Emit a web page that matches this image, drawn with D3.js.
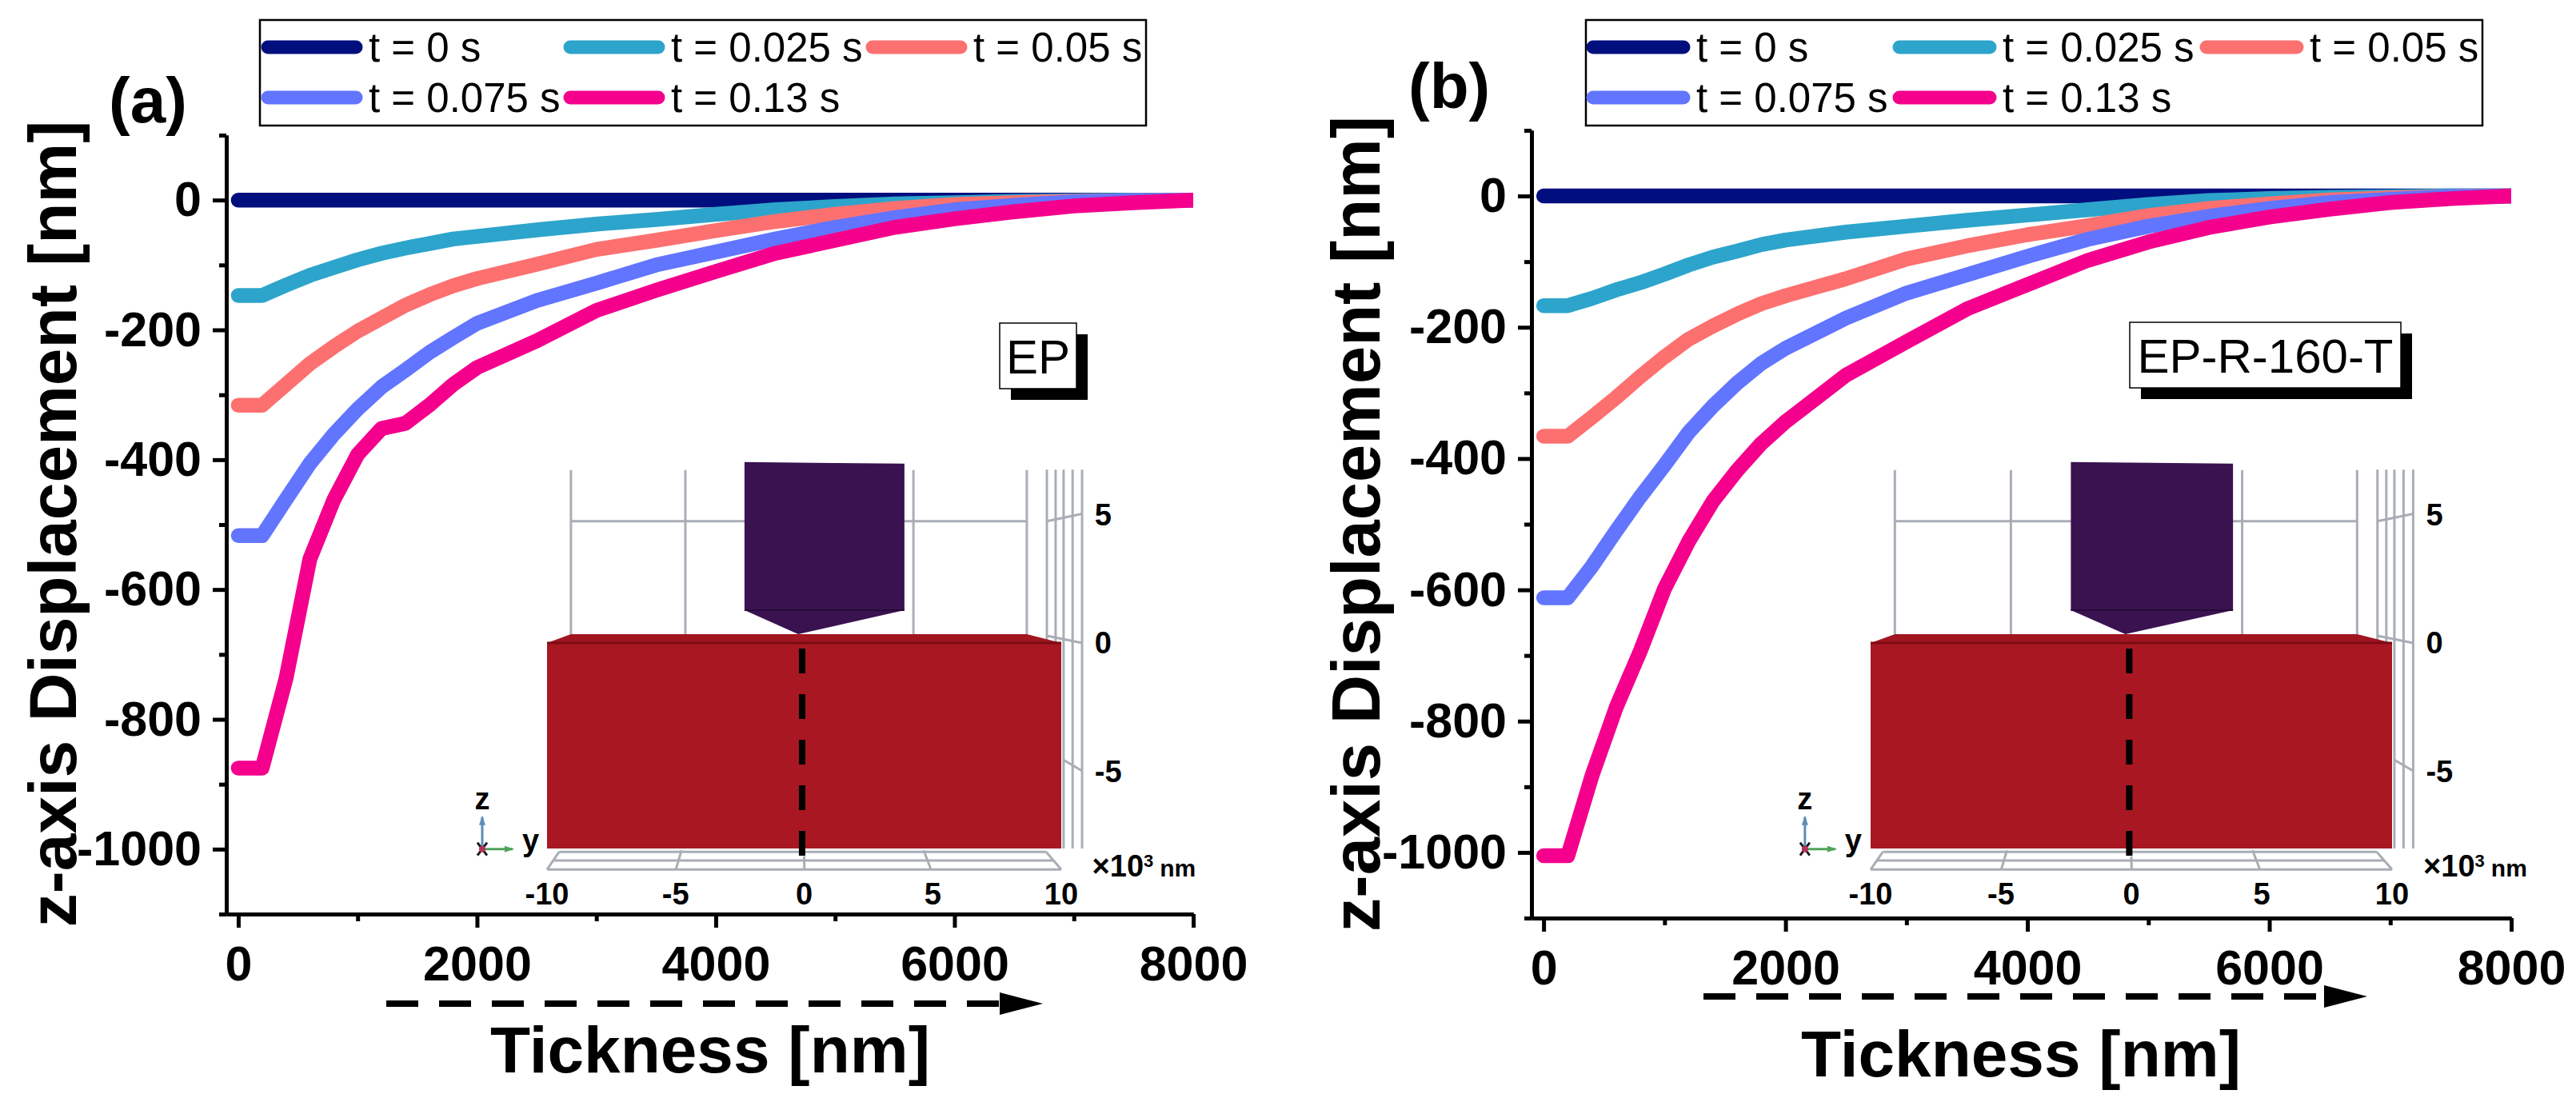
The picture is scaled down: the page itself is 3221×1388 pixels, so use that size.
<!DOCTYPE html>
<html>
<head>
<meta charset="utf-8">
<title>z-axis displacement</title>
<script src="https://d3js.org/d3.v7.min.js"></script>
<style>
    body { margin: 0; background: white; }
    svg { display: block; font-family: "Liberation Sans", Arial, sans-serif; }
    .axis path, .axis line { stroke: black; stroke-width: 5; }
    .axis text { font-size: 61px; font-weight: bold; fill: black; }
    .curve { fill: none; stroke-width: 18.5; stroke-linejoin: round; stroke-linecap: round; }
    .legend-swatch { stroke-width: 17; stroke-linecap: round; }
    .legend-label { font-size: 51px; }
    .axis-title { font-weight: bold; }
    .inset-grid { stroke: #a9adb6; stroke-width: 3; fill: none; }
    .inset-label { font-size: 38px; font-weight: bold; }
</style>
</head>
<body>
<svg id="chart" width="3221" height="1388"></svg>
<script>
// x positions (nm) shared by all curves
const thickness = [0, 200, 400, 600, 800, 1000, 1200, 1400, 1600, 1800, 2000, 2500, 3000, 3500, 4000, 4500, 5000, 5500, 6000, 6500, 7000, 7500, 8000];

const seriesNames = ['t = 0 s', 't = 0.025 s', 't = 0.05 s', 't = 0.075 s', 't = 0.13 s'];
const seriesColors = ['#000e7e', '#2da4cb', '#fd7070', '#6275ff', '#f4008c'];

const epT0 = [0, 0, 0, 0, 0, 0, 0, 0, 0, 0, 0, 0, 0, 0, 0, 0, 0, 0, 0, 0, 0, 0, 0];
const epT025 = [-147, -147, -131, -116, -104, -92, -82, -74, -67, -60, -56, -46, -37, -30, -22, -15, -10, -6, -4, -2, -1, 0, 0];
const epT05 = [-316, -316, -284, -252, -226, -202, -182, -162, -146, -132, -121, -99, -76, -62, -47, -33, -22, -13, -7, -4, -2, -1, 0];
const epT075 = [-517, -517, -461, -406, -361, -322, -288, -262, -235, -212, -190, -155, -128, -100, -80, -60, -42, -27, -15, -8, -3, -1, 0];
const epT13 = [-875, -875, -737, -553, -462, -392, -352, -344, -316, -284, -258, -217, -170, -139, -110, -82, -62, -42, -29, -18, -9, -4, 0];

const rT0 = [0, 0, 0, 0, 0, 0, 0, 0, 0, 0, 0, 0, 0, 0, 0, 0, 0, 0, 0, 0, 0, 0, 0];
const rT025 = [-167, -167, -156, -143, -132, -119, -105, -93, -84, -74, -67, -55, -46, -37, -29, -21, -13, -7, -4, -2, -1, 0, 0];
const rT05 = [-366, -366, -337, -307, -275, -245, -218, -198, -180, -164, -152, -126, -96, -76, -59, -45, -30, -19, -12, -6, -3, -1, 0];
const rT075 = [-612, -612, -564, -510, -458, -410, -360, -320, -285, -255, -232, -186, -148, -120, -92, -66, -46, -31, -19, -10, -5, -1, 0];
const rT13 = [-1005, -1005, -883, -779, -693, -598, -526, -465, -418, -377, -344, -273, -222, -172, -135, -98, -70, -48, -32, -20, -10, -4, 0];

const xMajor = [0, 2000, 4000, 6000, 8000];
const xMinor = [1000, 3000, 5000, 7000];
const yMajor = [0, -200, -400, -600, -800, -1000];
const yMinor = [100, -100, -300, -500, -700, -900, -1100];

// inset sketch, in its own axes (x10^3 nm)
const indenterOutline = [[-2.32, 7.04], [3.9, 6.98], [3.9, 1.28], [-0.23, 0.34], [-2.32, 1.28]];
const indenterShoulder = [[-2.32, 1.28], [3.9, 1.28]];
const blockTop = [[-10, 0], [-9.07, 0.34], [8.66, 0.34], [10, 0]];
const backVerticals = [-9.07, -4.62, 4.25, 8.66];
const sideVerticals = [9.44, 9.78, 10.09, 10.44, 10.81];
const sideTicks = [[[9.44, 4.74], [10.81, 5.03]], [[9.44, 0.28], [10.81, 0]], [[10.09, -4.55], [10.81, -4.98]]];
const floorLines = [
    [[-9.53, -8.13], [9.41, -8.13]], [[-9.75, -8.47], [9.7, -8.47]], [[-10, -8.82], [10, -8.82]],
    [[-9.53, -8.13], [-10, -8.82]], [[9.41, -8.13], [10, -8.82]],
    [[-4.77, -8.07], [-4.99, -8.82]], [[0, -8.3], [0.01, -8.82]], [[4.65, -8.07], [4.93, -8.82]]
];
const insetYTicks = [-10, -5, 0, 5, 10];
const insetZTicks = [5, 0, -5];

const svg = d3.select('#chart');

function drawInset(g, left, right) {
    const sx = d3.scaleLinear().domain([-10, 10]).range([left, right]);
    const sz = d3.scaleLinear().domain([0, -8]).range([804, 1061]);
    const path = d3.line().x(d => sx(d[0])).y(d => sz(d[1]));

    backVerticals.forEach(u => g.append('path').attr('class', 'inset-grid').attr('d', path([[u, 0.34], [u, 6.73]])));
    g.append('path').attr('class', 'inset-grid').attr('d', path([[-9.07, 4.74], [8.66, 4.74]]));
    sideVerticals.forEach(u => g.append('path').attr('class', 'inset-grid').attr('d', path([[u, 6.75], [u, -8]])));
    sideTicks.forEach(t => g.append('path').attr('class', 'inset-grid').attr('d', path(t)));
    floorLines.forEach(t => g.append('path').attr('class', 'inset-grid').attr('d', path(t)));

    g.append('path').attr('d', path(indenterOutline) + 'Z').attr('fill', '#3a1250');
    g.append('path').attr('d', path(indenterShoulder)).attr('stroke', '#25093a').attr('stroke-width', 2);

    g.append('rect')
        .attr('x', sx(-10)).attr('y', sz(0))
        .attr('width', sx(10) - sx(-10)).attr('height', sz(-8) - sz(0))
        .attr('fill', '#a91723');
    g.append('path').attr('d', path(blockTop) + 'Z').attr('fill', '#a01520');
    g.append('path').attr('d', path([[-10, 0], [10, 0]])).attr('stroke', '#7d0c14').attr('stroke-width', 3);

    g.append('path')
        .attr('d', path([[-0.08, -0.22], [-0.08, -8.38]]))
        .attr('stroke', 'black').attr('stroke-width', 8).attr('stroke-dasharray', '31 26');

    g.selectAll('.ylab').data(insetYTicks).enter().append('text')
        .attr('class', 'inset-label')
        .attr('x', d => sx(d)).attr('y', 1131)
        .attr('text-anchor', 'middle')
        .text(d => d);
    g.selectAll('.zlab').data(insetZTicks).enter().append('text')
        .attr('class', 'inset-label')
        .attr('x', sx(11.3)).attr('y', d => sz(d)).attr('dy', '.35em')
        .text(d => d);

    const unit = g.append('text').attr('class', 'inset-label')
        .attr('x', sx(11.2)).attr('y', 1096);
    unit.append('tspan').text('×10');
    unit.append('tspan').attr('dy', -12).style('font-size', '22px').text('3');
    unit.append('tspan').attr('dy', 12).attr('dx', 8).style('font-size', '30px').text('nm');

    // orientation triad
    const ox = sx(-12.52), oy = sz(-8.02);
    g.append('path').attr('d', `M${ox},${oy}V${oy - 40}`).attr('stroke', '#5b8db8').attr('stroke-width', 3);
    g.append('path').attr('d', `M${ox - 4},${oy - 30}L${ox},${oy - 42}L${ox + 4},${oy - 30}Z`).attr('fill', '#5b8db8');
    g.append('path').attr('d', `M${ox},${oy}H${ox + 38}`).attr('stroke', '#4fa35a').attr('stroke-width', 3);
    g.append('path').attr('d', `M${ox + 28},${oy - 4}L${ox + 40},${oy}L${ox + 28},${oy + 4}Z`).attr('fill', '#4fa35a');
    g.append('path').attr('d', `M${ox - 6},${oy - 8}L${ox + 6},${oy + 8}M${ox + 6},${oy - 8}L${ox - 6},${oy + 8}`)
        .attr('stroke', '#1c1c1c').attr('stroke-width', 3);
    g.append('circle').attr('cx', ox).attr('cy', oy).attr('r', 4).attr('fill', '#b5305a');
    g.append('text').attr('class', 'inset-label').attr('x', ox).attr('y', oy - 50).attr('text-anchor', 'middle').text('z');
    g.append('text').attr('class', 'inset-label').attr('x', ox + 50).attr('y', oy + 2).text('y');
}

function drawPanel(p) {
    const g = svg.append('g');
    const x = d3.scaleLinear().domain([-100, 8000]).range(p.xRange);
    const y = d3.scaleLinear().domain([100, -1100]).range(p.yRange);
    const line = d3.line().x((d, i) => x(thickness[i])).y(d => y(d));

    const clipId = 'clip-' + p.sample;
    g.append('clipPath').attr('id', clipId).append('rect')
        .attr('x', x(-100)).attr('y', y(100)).attr('width', x(8000) - x(-100)).attr('height', y(-1100) - y(100));

    drawInset(g.append('g'), p.insetLeft, p.insetRight);

    g.append('g').attr('clip-path', `url(#${clipId})`)
        .selectAll('path').data(p.series).enter().append('path')
        .attr('class', 'curve')
        .attr('stroke', (d, i) => seriesColors[i])
        .attr('d', line);

    // axes, minor ticks first
    g.append('g').attr('class', 'axis').attr('transform', `translate(0,${y(-1100)})`)
        .call(d3.axisBottom(x).tickValues(xMinor).tickSize(9).tickSizeOuter(0).tickFormat(''));
    g.append('g').attr('class', 'axis').attr('transform', `translate(${x(-100)},0)`)
        .call(d3.axisLeft(y).tickValues(yMinor).tickSize(9).tickSizeOuter(0).tickFormat(''));
    const xAxis = g.append('g').attr('class', 'axis').attr('transform', `translate(0,${y(-1100)})`)
        .call(d3.axisBottom(x).tickValues(xMajor).tickSize(17).tickSizeOuter(0).tickFormat(d => d));
    xAxis.selectAll('text').attr('y', 83).attr('dy', 0);
    g.append('g').attr('class', 'axis').attr('transform', `translate(${x(-100)},0)`)
        .call(d3.axisLeft(y).tickValues(yMajor).tickSize(17).tickSizeOuter(0).tickPadding(14).tickFormat(d => String(d)));

    // titles
    g.append('text').attr('class', 'axis-title')
        .attr('transform', `translate(${p.yTitleX},655) rotate(-90)`)
        .attr('text-anchor', 'middle').style('font-size', p.yTitleSize + 'px')
        .text('z-axis Displacement [nm]');
    g.append('text').attr('class', 'axis-title')
        .attr('x', p.xTitleX).attr('y', p.xTitleY)
        .attr('text-anchor', 'middle').style('font-size', '82px')
        .text('Tickness [nm]');
    g.append('text').attr('class', 'axis-title')
        .attr('x', p.tagX).attr('y', p.tagY).style('font-size', '80px')
        .text(p.tag);

    // direction arrow
    g.append('path')
        .attr('d', `M${p.arrow[0]},${p.arrow[2]}H${p.arrow[1]}`)
        .attr('stroke', 'black').attr('stroke-width', 8).attr('stroke-dasharray', '40 26');
    g.append('path')
        .attr('d', `M${p.arrow[1]},${p.arrow[2] - 14}L${p.arrow[1] + 54},${p.arrow[2]}L${p.arrow[1]},${p.arrow[2] + 14}Z`)
        .attr('fill', 'black');

    // sample label with drop shadow
    const b = p.box;
    g.append('rect').attr('x', b[0] + 14).attr('y', b[1] + 14).attr('width', b[2]).attr('height', b[3]).attr('fill', 'black');
    g.append('rect').attr('x', b[0]).attr('y', b[1]).attr('width', b[2]).attr('height', b[3])
        .attr('fill', 'white').attr('stroke', 'black').attr('stroke-width', 1.5);
    g.append('text')
        .attr('x', b[0] + b[2] / 2).attr('y', b[1] + b[3] / 2).attr('dy', '.36em')
        .attr('text-anchor', 'middle').style('font-size', '60px')
        .text(p.sample);

    // legend
    const l = p.legend;
    g.append('rect').attr('x', l.x).attr('y', 25).attr('width', l.w).attr('height', 132)
        .attr('fill', 'white').attr('stroke', 'black').attr('stroke-width', 2.5);
    seriesNames.forEach((name, i) => {
        const col = i < 3 ? i : i - 3;
        const row = i < 3 ? 0 : 1;
        const sy = row === 0 ? 59 : 122;
        g.append('line').attr('class', 'legend-swatch')
            .attr('x1', l.cols[col] + 8).attr('x2', l.cols[col] + l.swatch - 8)
            .attr('y1', sy).attr('y2', sy)
            .attr('stroke', seriesColors[i]);
        g.append('text').attr('class', 'legend-label')
            .attr('x', l.cols[col] + l.swatch + 8).attr('y', sy).attr('dy', '.36em')
            .text(name);
    });
}

drawPanel({
    tag: '(a)', sample: 'EP',
    series: [epT0, epT025, epT05, epT075, epT13],
    xRange: [283, 1492], yRange: [169, 1143],
    yTitleX: 95, yTitleSize: 84,
    xTitleX: 888, xTitleY: 1341,
    tagX: 136, tagY: 153,
    arrow: [483, 1250, 1255],
    box: [1250, 404, 96, 82],
    insetLeft: 684, insetRight: 1327,
    legend: { x: 325, w: 1108, cols: [327, 705, 1083], swatch: 126 }
});
drawPanel({
    tag: '(b)', sample: 'EP-R-160-T',
    series: [rT0, rT025, rT05, rT075, rT13],
    xRange: [1915, 3140], yRange: [163, 1148],
    yTitleX: 1725, yTitleSize: 85,
    xTitleX: 2527, xTitleY: 1346,
    tagX: 1761, tagY: 135,
    arrow: [2130, 2906, 1246],
    box: [2663, 403, 339, 82],
    insetLeft: 2339, insetRight: 2991,
    legend: { x: 1983, w: 1121, cols: [1984, 2367, 2751], swatch: 129 }
});
</script>
</body>
</html>
